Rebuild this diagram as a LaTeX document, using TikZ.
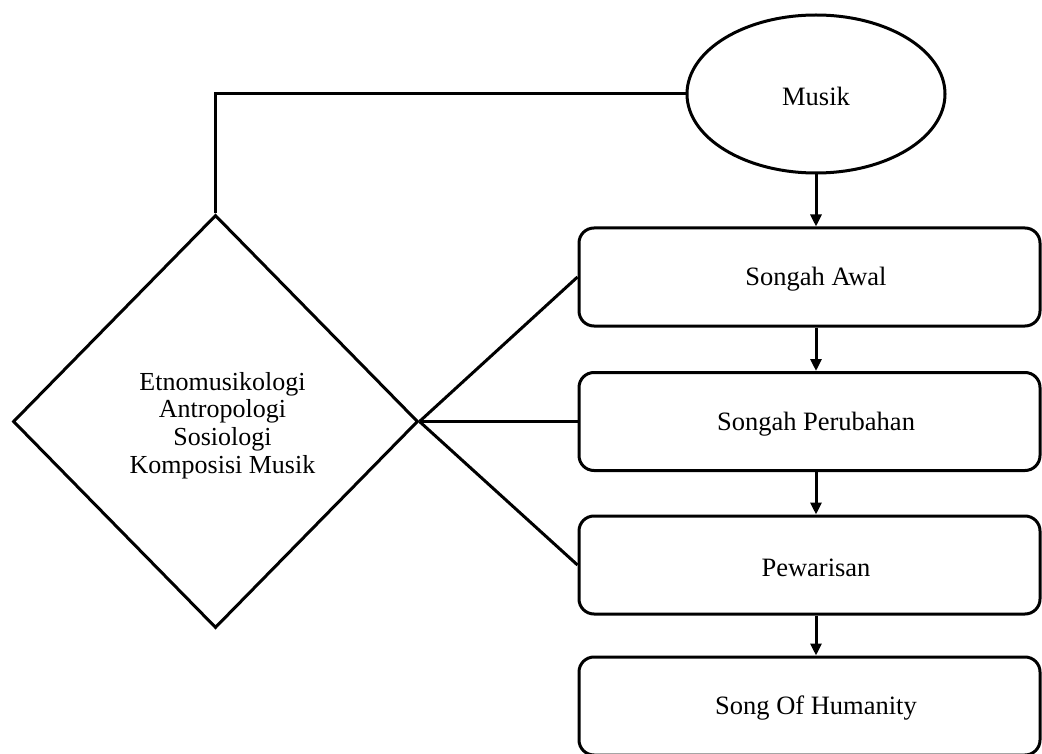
\documentclass[tikz,border=0pt]{standalone}
\usepackage{fontspec}
\setmainfont{Liberation Serif}
\usetikzlibrary{shapes.geometric,arrows.meta}
\tikzset{
  line/.style={line width=3pt, line join=miter},
  stagetext/.style={font=\fontsize{26.5}{28}\selectfont, xshift=6.5pt, yshift=-2.5pt},
  stagebox/.style={line, draw, rectangle, rounded corners=15pt, inner sep=0pt,
    minimum width=461pt, minimum height=98pt, label={[stagetext]center:#1}},
  flow/.style={line, -{Triangle[length=12pt,width=11pt]}},
}
\begin{document}
\begin{tikzpicture}[x=1pt,y=-1pt]
  \useasboundingbox (0,0) rectangle (1042,754);

  % topic
  \node[line, draw, ellipse, inner sep=0pt, minimum width=258pt, minimum height=158pt,
        font=\fontsize{26.5}{28}\selectfont] (musik) at (816,94) {};
  \node[font=\fontsize{26.5}{28}\selectfont, yshift=-2pt] (musiktext) at (musik.center) {Musik};

  % disciplines
  \node[line, draw, diamond, inner sep=0pt, minimum width=405pt, minimum height=413pt]
        (ilmu) at (215.5,421.5) {};
  \node[align=center, font=\fontsize{26}{27.7}\selectfont, xshift=7pt, yshift=-4pt]
        (ilmutext) at (ilmu.center)
        {Etnomusikologi\\Antropologi\\Sosiologi\\Komposisi Musik};

  % stages
  \node[stagebox={Songah Awal}]      (awal)  at (809.5,277) {};
  \node[stagebox={Songah Perubahan}] (ubah)  at (809.5,421.5) {};
  \node[stagebox={Pewarisan}]        (waris) at (809.5,565) {};
  \node[stagebox={Song Of Humanity}] (song)  at (809.5,706) {};

  % links
  \draw[line] (ilmu.north) |- (musik.west);
  \draw[line] (ilmu.east) -- (awal.west);
  \draw[line] (ilmu.east) -- (ubah.west);
  \draw[line] (ilmu.east) -- (waris.west);

  \draw[flow] (musik.south) -- (musik.south |- awal.north);
  \draw[flow] (musik.south |- awal.south) -- (musik.south |- ubah.north);
  \draw[flow] (musik.south |- ubah.south) -- (musik.south |- waris.north);
  \draw[flow] (musik.south |- waris.south) -- (musik.south |- song.north);
\end{tikzpicture}
\end{document}
